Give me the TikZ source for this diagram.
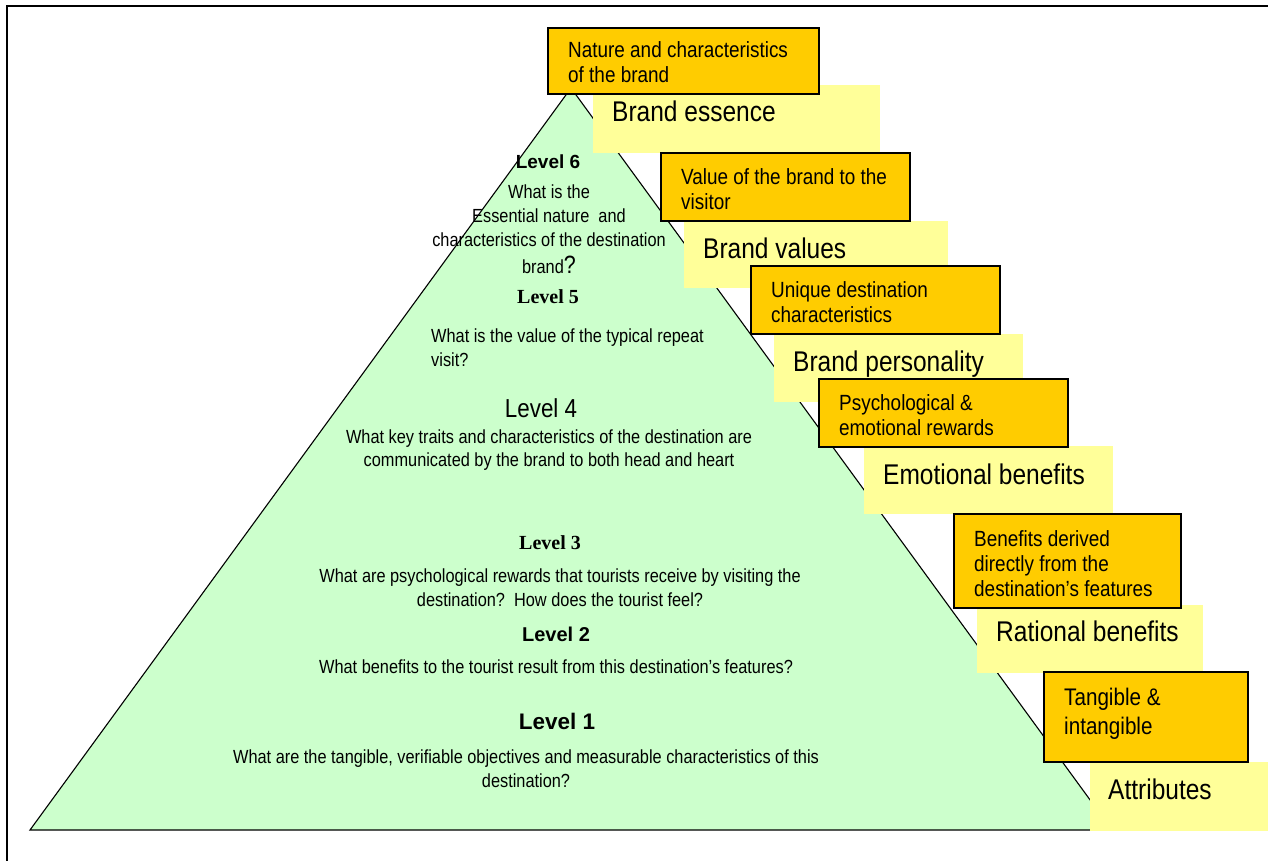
\documentclass[tikz,border=0pt]{standalone}
\usepackage{fontspec}
\setmainfont{Liberation Sans}
\newfontfamily\narrowfont[FakeStretch=0.86]{Liberation Sans}
\newfontfamily\timesfont{Liberation Serif}
\definecolor{pyrgreen}{HTML}{CCFFCC}
\definecolor{boxorange}{HTML}{FFCC00}
\definecolor{boxyellow}{HTML}{FFFF99}
\tikzset{
  obox/.style={draw=black, line width=1.6pt, fill=boxorange, inner sep=0pt},
  ybox/.style={fill=boxyellow, draw=none, inner sep=0pt},
  otext/.style={anchor=north west, inner sep=0pt, align=left,
    font=\narrowfont\fontsize{22}{25}\selectfont},
  ytext/.style={anchor=base west, inner sep=0pt,
    font=\narrowfont\fontsize{28.5}{30}\selectfont},
  qtext/.style={inner sep=0pt, align=center, font=\narrowfont\fontsize{19}{24}\selectfont},
  headsans/.style={anchor=base, inner sep=0pt, font=\bfseries\fontsize{20}{22}\selectfont},
  headserif/.style={anchor=base, inner sep=0pt, font=\timesfont\bfseries\fontsize{20}{22}\selectfont},
}
\begin{document}
\begin{tikzpicture}[x=1pt,y=-1pt]
\useasboundingbox (0,0) rectangle (1268,861);
% frame
\draw[line width=2pt] (7,861) -- (7,6) -- (1268,6);

% pyramid
\coordinate (apex) at (571,88);
\coordinate (baseL) at (30,830);
\coordinate (baseR) at (1112,830);
\draw[fill=pyrgreen, line width=1.1pt] (apex) -- (baseR) -- (baseL) -- cycle;

% level texts inside the pyramid
\node[headsans, font=\bfseries\fontsize{19}{22}\selectfont] (l6) at (548,168) {Level 6};
\node[qtext, anchor=north] (q6) at (549,181.2)
  {\strut What is the\\Essential nature\ \ and\\characteristics of the destination\\[3pt]brand{\fontsize{25}{24}\selectfont ?}};
\node[headserif] (l5) at (548,303) {Level 5};
\node[qtext, anchor=north west, align=left] (q5) at (431,325.2)
  {\strut What is the value of the typical repeat\\visit?};
\node[anchor=base, inner sep=0pt, font=\narrowfont\fontsize{26}{28}\selectfont] (l4) at (541,417) {Level 4};
\node[qtext, anchor=north, font=\narrowfont\fontsize{19}{23}\selectfont] (q4) at (549,426.9)
  {\strut What key traits and characteristics of the destination are\\communicated by the brand to both head and heart};
\node[headserif] (l3) at (550,549) {Level 3};
\node[qtext, anchor=north] (q3) at (560,565.2)
  {\strut What are psychological rewards that tourists receive by visiting the\\destination?\ \ How does the tourist feel?};
\node[headsans] (l2) at (556,641) {Level 2};
\node[qtext, anchor=base] (q2) at (556,673)
  {What benefits to the tourist result from this destination’s features?};
\node[headsans, font=\bfseries\fontsize{22.5}{24}\selectfont] (l1) at (557,729) {Level 1};
\node[qtext, anchor=north] (q1) at (526,746.2)
  {\strut What are the tangible, verifiable objectives and measurable characteristics of this\\destination?};

% pale labels
\node[ybox, minimum width=287, minimum height=68] (y1) at (736.5,119) {};
\node[ybox, minimum width=264, minimum height=67] (y2) at (816,254.5) {};
\node[ybox, minimum width=249, minimum height=68] (y3) at (898.5,368) {};
\node[ybox, minimum width=249, minimum height=68] (y4) at (988.5,480) {};
\node[ybox, minimum width=226, minimum height=68] (y5) at (1090,639) {};
\node[ybox, minimum width=178, minimum height=69] (y6) at (1179,796.5) {};
\node[ytext] (t1) at (612,122) {Brand essence};
\node[ytext] (t2) at (703,258) {Brand values};
\node[ytext] (t3) at (793,371) {Brand personality};
\node[ytext] (t4) at (883,484) {Emotional benefits};
\node[ytext] (t5) at (996,641) {Rational benefits};
\node[ytext] (t6) at (1108,799) {Attributes};

% orange description boxes
\node[obox, minimum width=271, minimum height=66] (o1) at (683.5,61) {};
\node[obox, minimum width=249, minimum height=68] (o2) at (785.5,187) {};
\node[obox, minimum width=249, minimum height=68] (o3) at (875.5,300) {};
\node[obox, minimum width=249, minimum height=68] (o4) at (943.5,413) {};
\node[obox, minimum width=227, minimum height=94] (o5) at (1067.5,561) {};
\node[obox, minimum width=204, minimum height=90] (o6) at (1146,717) {};
\node[otext] (d1) at (568,39.5) {\strut Nature and characteristics\\of the brand};
\node[otext] (d2) at (681,166.5) {\strut Value of the brand to the\\visitor};
\node[otext] (d3) at (771,279.5) {\strut Unique destination\\characteristics};
\node[otext] (d4) at (839,392.5) {\strut Psychological \&\\emotional rewards};
\node[otext] (d5) at (974,528.5) {\strut Benefits derived\\directly from the\\destination’s features};
\node[otext, font=\narrowfont\fontsize{24}{29}\selectfont] (d6) at (1064,684.7) {\strut Tangible \&\\intangible};
\end{tikzpicture}
\end{document}
